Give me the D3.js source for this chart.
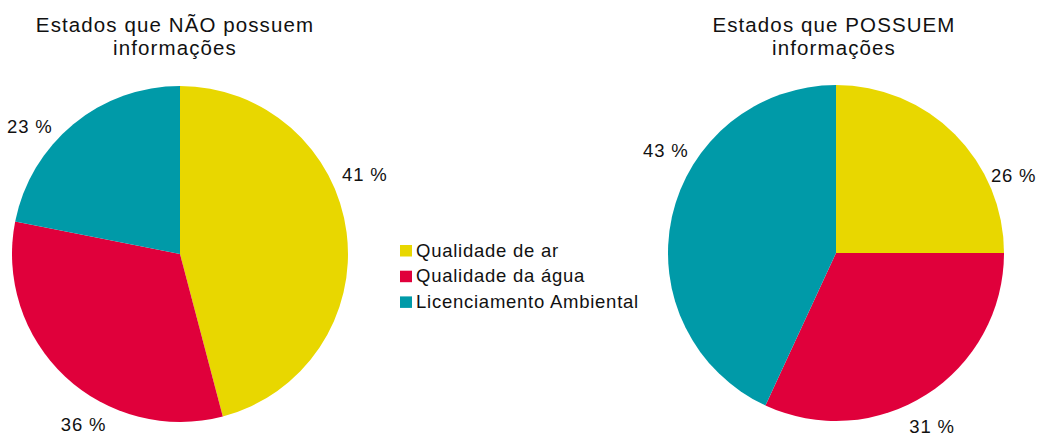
<!DOCTYPE html>
<html>
<head>
<meta charset="utf-8">
<script src="https://cdn.jsdelivr.net/npm/d3@7"></script>
<style>
	body { margin: 0; background: white; }
	svg text { font-family: "Liberation Sans", Arial, Helvetica, sans-serif; fill: #111; }
</style>
</head>
<body>
<svg id="chart" width="1038" height="436"></svg>
<script>
// Categories shared by both pies.
const categories = ["Qualidade de ar", "Qualidade da água", "Licenciamento Ambiental"];
const colors = ["#e8d700", "#e0003b", "#009aa8"];

// Slice sizes as drawn in the picture, and the labels printed next to them.
const semInfoValues = [45.9, 32.2, 21.9];
const semInfoLabels = ["41 %", "36 %", "23 %"];
const comInfoValues = [25.0, 31.9, 43.1];
const comInfoLabels = ["26 %", "31 %", "43 %"];

const titles = [
	["Estados que NÃO possuem", "informações"],
	["Estados que POSSUEM", "informações"]
];


// Layout: where each pie sits and where its labels go (angle in degrees from 12 o'clock).
let layout = [
	{cx: 180, cy: 254, tx: 175, values: semInfoValues, labels: semInfoLabels, labelAngles: [66.8, 209.5, 310.3], labelRadii: [201, 196, 197]},
	{cx: 836, cy: 253, tx: 834, values: comInfoValues, labels: comInfoLabels, labelAngles: [66.3, 151, 301.2], labelRadii: [194, 198, 199]}
];
const radius = 168;

let svg = d3.select("#chart");

let pie = d3.pie().sort(null).value(d=>d);
let arc = d3.arc().innerRadius(0).outerRadius(radius);

layout.forEach((p, i)=>{
	let g = svg.append("g").attr("transform", `translate(${p.cx},${p.cy})`);
	
	g.selectAll("path")
	  .data(pie(p.values))
	  .enter()
	  .append("path")
		.attr("d", arc)
		.attr("fill", (d,j)=>colors[j]);
	
	g.selectAll("text.pct")
	  .data(p.labels)
	  .enter()
	  .append("text")
		.attr("class", "pct")
		.attr("text-anchor", "middle")
		.attr("dy", "0.36em")
		.attr("font-size", 18.5)
		.attr("letter-spacing", 0.8)
		.attr("x", (d,j)=>p.labelRadii[j]*Math.sin(p.labelAngles[j]*Math.PI/180))
		.attr("y", (d,j)=>-p.labelRadii[j]*Math.cos(p.labelAngles[j]*Math.PI/180))
		.text(d=>d);
	
	// Title, two lines.
	svg.append("g")
	  .selectAll("text")
	  .data(titles[i])
	  .enter()
	  .append("text")
		.attr("text-anchor", "middle")
		.attr("font-size", 20.5)
		.attr("letter-spacing", 1.1)
		.attr("x", p.tx)
		.attr("y", (d,j)=>32 + j*23)
		.text(d=>d);
}) // forEach


// Legend in the middle.
let legend = svg.append("g").attr("transform", "translate(400,245)");
let rows = legend.selectAll("g")
  .data(categories)
  .enter()
  .append("g")
	.attr("transform", (d,j)=>`translate(0,${j*25.7})`);

rows.append("rect")
	.attr("width", 12)
	.attr("height", 11.5)
	.attr("fill", (d,j)=>colors[j]);

rows.append("text")
	.attr("x", 16)
	.attr("y", 11.5)
	.attr("font-size", 18.5)
	.attr("letter-spacing", 0.75)
	.text(d=>d);
</script>
</body>
</html>
